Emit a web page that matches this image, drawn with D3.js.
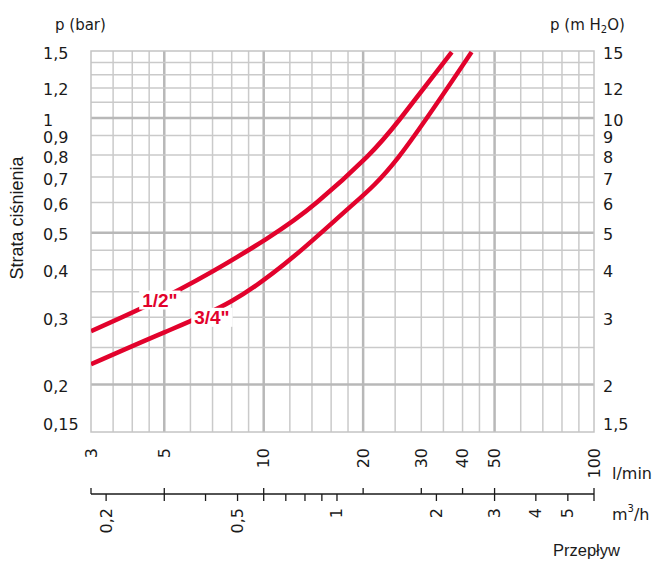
<!DOCTYPE html>
<html>
<head>
<meta charset="utf-8">
<title>Strata ciśnienia</title>
<style>
  body { margin: 0; background: #fff; }
  text { font-family: "DejaVu Sans", sans-serif; fill: #1a1a1a; }
  .sans { font-family: "Liberation Sans", Arial, sans-serif; }
</style>
<script src="https://d3js.org/d3.v7.min.js"></script>
</head>
<body>
<div id="chart"></div>
<script>
// flow in l/min, pressure loss in bar
var halfFlow = [3, 5.6, 10.2, 14.5, 20.5, 25.9, 37.1];
var halfP    = [0.276, 0.356, 0.482, 0.601, 0.79, 0.996, 1.49];
var threeFlow = [3, 5, 8, 12.4, 18.2, 25.6, 42.6];
var threeP    = [0.226, 0.274, 0.331, 0.435, 0.583, 0.79, 1.49];

var seriesNames = ['1/2"', '3/4"'];
var labelAt = [[4.85, 0.333], [6.97, 0.300]];  // where each curve name sits (l/min, bar)

var pTicks = [0.15, 0.2, 0.3, 0.4, 0.5, 0.6, 0.7, 0.8, 0.9, 1, 1.2, 1.5];
var pGrid = [0.2, 0.25, 0.3, 0.35, 0.4, 0.45, 0.5, 0.6, 0.7, 0.8, 0.9, 1, 1.1, 1.2, 1.3, 1.4];
var pMajor = [0.2, 0.5, 1];

var flowTicks = [3, 5, 10, 20, 30, 40, 50, 100];
var flowGrid = [3.5, 4, 4.5, 5, 6, 7, 8, 9, 10, 12, 14, 16, 18, 20, 25, 30, 35, 40, 45, 50, 60, 70, 80, 90];
var flowMajor = [5, 10, 20, 50];

var m3hTicks = [0.2, 0.3, 0.4, 0.5, 0.6, 0.7, 0.8, 0.9, 1, 2, 3, 4, 5, 6];
var m3hLabels = [0.2, 0.5, 1, 2, 3, 4, 5];

var W = 654, H = 561;
var plotL = 91, plotR = 594, plotT = 51, plotB = 432;
var red = '#e2022c';

var svg = d3.select('#chart').append('svg')
    .attr('width', W)
    .attr('height', H);

var x = d3.scaleLog().domain([3, 100]).range([plotL, plotR]);
var y = d3.scaleLog().domain([0.15, 1.5]).range([plotB, plotT]);

function comma(v) {
    return String(+v.toFixed(3)).replace('.', ',');
}

// grid
var grid = svg.append('g');
grid.selectAll('.vg').data(flowGrid).enter().append('line')
    .attr('x1', d => x(d)).attr('x2', d => x(d))
    .attr('y1', plotT).attr('y2', plotB)
    .attr('stroke', d => flowMajor.indexOf(d) >= 0 ? '#b8b8b8' : '#cacaca')
    .attr('stroke-width', d => flowMajor.indexOf(d) >= 0 ? 2.5 : 1.5);
grid.selectAll('.hg').data(pGrid).enter().append('line')
    .attr('y1', d => y(d)).attr('y2', d => y(d))
    .attr('x1', plotL).attr('x2', plotR)
    .attr('stroke', d => pMajor.indexOf(d) >= 0 ? '#b8b8b8' : '#cacaca')
    .attr('stroke-width', d => pMajor.indexOf(d) >= 0 ? 2.5 : 1.5);
grid.append('rect')
    .attr('x', plotL).attr('y', plotT)
    .attr('width', plotR - plotL).attr('height', plotB - plotT)
    .attr('fill', 'none').attr('stroke', '#c4c4c4').attr('stroke-width', 1.5);

// curves
svg.append('clipPath').attr('id', 'clip').append('rect')
    .attr('x', plotL).attr('y', plotT).attr('width', plotR - plotL).attr('height', plotB - plotT);

var line = d3.line()
    .x(d => x(d[0]))
    .y(d => y(d[1]))
    .curve(d3.curveNatural);

var curves = [d3.zip(halfFlow, halfP), d3.zip(threeFlow, threeP)];
svg.append('g').attr('clip-path', 'url(#clip)')
    .selectAll('path').data(curves).enter().append('path')
    .attr('d', line)
    .attr('fill', 'none')
    .attr('stroke', red)
    .attr('stroke-width', 4.5);

// curve names on white patches
seriesNames.forEach(function(name, i) {
    var g = svg.append('g');
    var t = g.append('text')
        .attr('class', 'sans')
        .attr('x', x(labelAt[i][0]))
        .attr('y', y(labelAt[i][1]))
        .attr('text-anchor', 'middle')
        .attr('dominant-baseline', 'central')
        .attr('font-size', 19)
        .attr('font-weight', 'bold')
        .style('fill', red)
        .text(name);
    var b = t.node().getBBox();
    g.insert('rect', 'text')
        .attr('x', b.x - 3).attr('y', b.y + 1)
        .attr('width', b.width + 6).attr('height', b.height - 2)
        .attr('fill', '#fff');
});

// left / right pressure labels
var yl = d => Math.min(y(d) + 2, plotB - 8);
svg.selectAll('.pl').data(pTicks).enter().append('text')
    .attr('x', 43).attr('y', yl)
    .attr('dominant-baseline', 'central')
    .attr('font-size', 16)
    .text(d => comma(d));
svg.selectAll('.pr').data(pTicks).enter().append('text')
    .attr('x', 603).attr('y', yl)
    .attr('dominant-baseline', 'central')
    .attr('font-size', 16)
    .text(d => comma(d * 10));

svg.append('text').attr('x', 55).attr('y', 25)
    .attr('dominant-baseline', 'central').attr('font-size', 15)
    .text('p (bar)');
var h2o = svg.append('text').attr('x', 550).attr('y', 25)
    .attr('dominant-baseline', 'central').attr('font-size', 15);
h2o.append('tspan').text('p (m H');
h2o.append('tspan').attr('font-size', 10).attr('dy', 4).text('2');
h2o.append('tspan').attr('dy', -4).text('O)');

svg.append('text').attr('class', 'sans')
    .attr('transform', 'translate(17,218) rotate(-90)')
    .attr('text-anchor', 'middle')
    .attr('dominant-baseline', 'central')
    .attr('font-size', 18)
    .text('Strata ciśnienia');

// flow axis
var axY = 494;
var lpm = d => d * 1000 / 60;
var ax = svg.append('g');
ax.append('line').attr('x1', plotL).attr('x2', plotR)
    .attr('y1', axY).attr('y2', axY)
    .attr('stroke', '#1a1a1a').attr('stroke-width', 1.3);
ax.selectAll('.tu').data(flowTicks).enter().append('line')
    .attr('x1', d => x(d)).attr('x2', d => x(d))
    .attr('y1', axY - 6).attr('y2', axY)
    .attr('stroke', '#1a1a1a').attr('stroke-width', 1.3);
ax.selectAll('.td').data(m3hTicks).enter().append('line')
    .attr('x1', d => x(lpm(d))).attr('x2', d => x(lpm(d)))
    .attr('y1', axY).attr('y2', axY + 7)
    .attr('stroke', '#1a1a1a').attr('stroke-width', 1.3);

ax.selectAll('.lu').data(flowTicks).enter().append('text')
    .attr('transform', d => 'translate(' + x(d) + ',448) rotate(-90)')
    .attr('text-anchor', 'end')
    .attr('dominant-baseline', 'central')
    .attr('font-size', 16)
    .text(d => d);
ax.selectAll('.ld').data(m3hLabels).enter().append('text')
    .attr('transform', d => 'translate(' + x(lpm(d)) + ',508) rotate(-90)')
    .attr('text-anchor', 'end')
    .attr('dominant-baseline', 'central')
    .attr('font-size', 16)
    .text(d => comma(d));

svg.append('text').attr('x', 612).attr('y', 473)
    .attr('dominant-baseline', 'central').attr('font-size', 16)
    .text('l/min');
var m3 = svg.append('text').attr('x', 612).attr('y', 514)
    .attr('dominant-baseline', 'central').attr('font-size', 16);
m3.append('tspan').text('m');
m3.append('tspan').attr('font-size', 10).attr('dy', -6).text('3');
m3.append('tspan').attr('dy', 6).text('/h');

svg.append('text').attr('class', 'sans')
    .attr('x', 553).attr('y', 550)
    .attr('dominant-baseline', 'central')
    .attr('font-size', 16.5)
    .text('Przepływ');
</script>
</body>
</html>
